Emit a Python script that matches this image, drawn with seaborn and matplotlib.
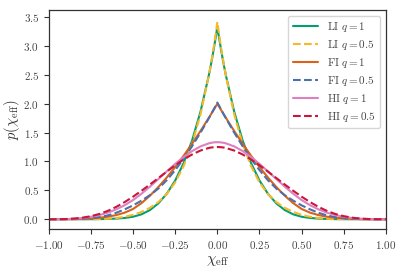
import numpy as np
import pandas as pd
import matplotlib
matplotlib.use("Agg")
import matplotlib.pyplot as plt
from matplotlib.ticker import FuncFormatter
import seaborn as sns

# chi_eff sample positions (x >= 0; curves are symmetric about 0)
chi_pos = [0.0, 0.01, 0.02, 0.03, 0.04, 0.05, 0.10, 0.15, 0.20, 0.25, 0.30,
           0.35, 0.40, 0.45, 0.50, 0.55, 0.60, 0.65, 0.70, 0.75, 0.80,
           0.85, 0.90, 0.95, 1.00]

li_q1 = [3.333, 3.145, 2.969, 2.803, 2.647, 2.499, 1.862, 1.363, 0.973, 0.671,
         0.442, 0.275, 0.159, 0.085, 0.043, 0.022, 0.011, 0.005, 0.002, 0.001,
         0.0002, 0.0, 0.0, 0.0, 0.0]
li_q05 = [3.415, 3.203, 3.008, 2.826, 2.655, 2.494, 1.816, 1.304, 0.921, 0.639,
          0.437, 0.297, 0.198, 0.127, 0.076, 0.042, 0.020, 0.008, 0.003, 0.001,
          0.0003, 0.0, 0.0, 0.0, 0.0]
fi_q1 = [2.000, 1.951, 1.902, 1.854, 1.806, 1.758, 1.527, 1.307, 1.099, 0.904,
         0.723, 0.557, 0.408, 0.279, 0.178, 0.114, 0.072, 0.044, 0.026, 0.014,
         0.0067, 0.0025, 0.0007, 0.0001, 0.0]
fi_q05 = [2.020, 1.965, 1.910, 1.856, 1.803, 1.751, 1.499, 1.264, 1.048, 0.851,
          0.676, 0.531, 0.417, 0.322, 0.240, 0.171, 0.112, 0.066, 0.036, 0.019,
          0.0088, 0.0037, 0.0012, 0.0002, 0.0]
hi_q1 = [1.333, 1.333, 1.330, 1.326, 1.321, 1.314, 1.261, 1.180, 1.077, 0.958,
         0.829, 0.696, 0.565, 0.442, 0.333, 0.243, 0.171, 0.114, 0.072, 0.042,
         0.021, 0.009, 0.0027, 0.0003, 0.0]
hi_q05 = [1.250, 1.249, 1.247, 1.244, 1.240, 1.234, 1.189, 1.121, 1.034, 0.934,
          0.825, 0.713, 0.601, 0.493, 0.391, 0.297, 0.214, 0.145, 0.091, 0.053,
          0.027, 0.011, 0.0034, 0.0004, 0.0]

labels = [r"$\mathrm{LI}\ q = 1$", r"$\mathrm{LI}\ q = 0.5$",
          r"$\mathrm{FI}\ q = 1$", r"$\mathrm{FI}\ q = 0.5$",
          r"$\mathrm{HI}\ q = 1$", r"$\mathrm{HI}\ q = 0.5$"]
series = [li_q1, li_q05, fi_q1, fi_q05, hi_q1, hi_q05]
colors = ["#029e73", "#f7b928", "#d8621a", "#4c6fae", "#dc80c0", "#c8173a"]
styles = ["-", "--", "-", "--", "-", "--"]

x_ticks = [-1.0, -0.75, -0.5, -0.25, 0.0, 0.25, 0.5, 0.75, 1.0]
y_ticks = [0.0, 0.5, 1.0, 1.5, 2.0, 2.5, 3.0, 3.5]

sns.set_style("ticks")
plt.rcParams["mathtext.fontset"] = "cm"
plt.rcParams["font.family"] = ["DejaVu Serif"]

def full(vals):
    v = list(vals)
    return v[:0:-1] + v

chi_full = [-c for c in chi_pos[:0:-1]] + list(chi_pos)

frames = []
for lab, vals in zip(labels, series):
    frames.append(pd.DataFrame({"chi": chi_full, "p": full(vals), "model": lab}))
df = pd.concat(frames, ignore_index=True)

fig = plt.figure(figsize=(4.04, 2.73), dpi=100)
ax = fig.add_axes([0.121, 0.161, 0.834, 0.802])

for lab, col, ls in zip(labels, colors, styles):
    sub = df[df["model"] == lab]
    sns.lineplot(data=sub, x="chi", y="p", ax=ax, color=col, linestyle=ls,
                 linewidth=1.5, label=lab, sort=False)

ax.set_xlim(-1.0, 1.0)
ax.set_ylim(-0.17, 3.62)
ax.set_xticks(x_ticks)
ax.set_yticks(y_ticks)
ax.xaxis.set_major_formatter(FuncFormatter(lambda v, p: r"$%.2f$" % v))
ax.yaxis.set_major_formatter(FuncFormatter(lambda v, p: r"$%.1f$" % v))
ax.tick_params(labelsize=8, length=3.5, width=0.8, colors="#333333",
               labelcolor="#444444")
for s in ax.spines.values():
    s.set_color("#333333")
    s.set_linewidth(0.9)

ax.set_xlabel(r"$\chi_{\rm eff}$", fontsize=11, color="#333333", labelpad=2)
ax.set_ylabel(r"$p(\chi_{\rm eff})$", fontsize=10.5, color="#333333", labelpad=1)

leg = ax.legend(loc="upper right", fontsize=8, frameon=True, fancybox=True,
                framealpha=0.8, edgecolor="#cccccc", handlelength=2.3,
                borderpad=0.4, labelspacing=0.35)
for t in leg.get_texts():
    t.set_color("#444444")

fig.savefig("out.png", dpi=100)
